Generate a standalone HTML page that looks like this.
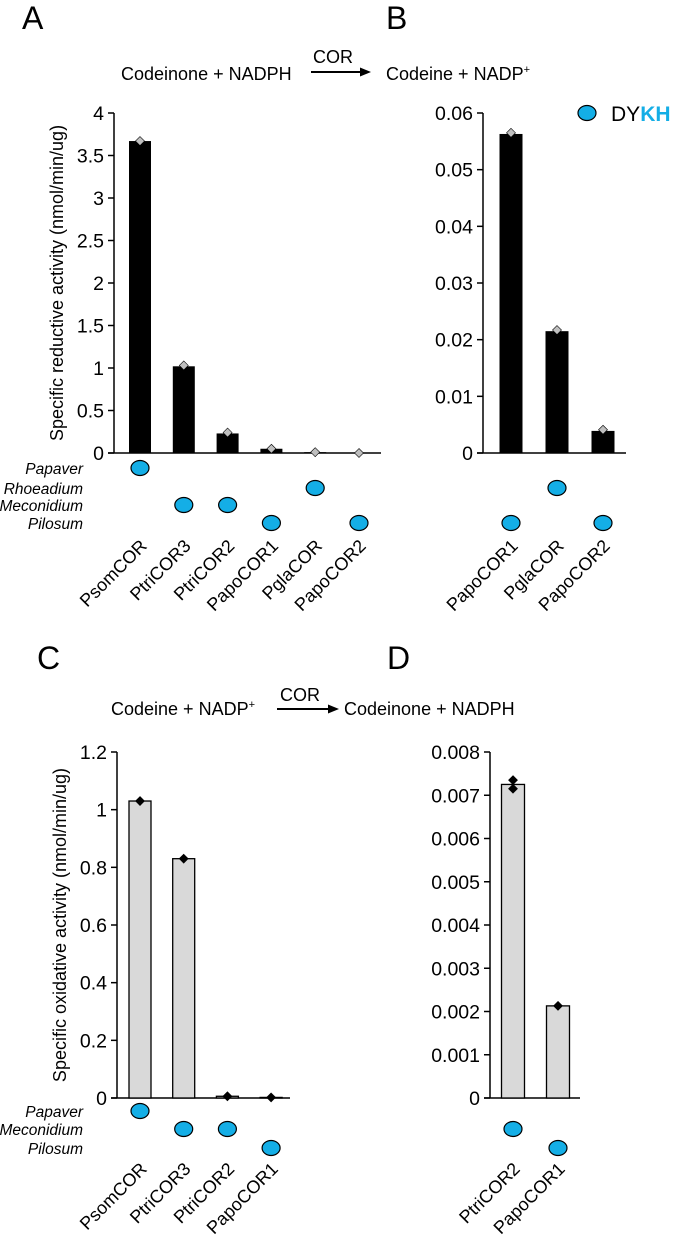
<!DOCTYPE html>
<html><head><meta charset="utf-8">
<style>
html,body{margin:0;padding:0;background:#fff;}
svg{display:block;font-family:"Liberation Sans",Arial,sans-serif;}
</style></head>
<body>
<svg id="fig" width="675" height="1241" viewBox="0 0 675 1241" xmlns="http://www.w3.org/2000/svg">
  <g font-size="32">
    <text x="22" y="29">A</text>
    <text x="386" y="29">B</text>
    <text x="37" y="669">C</text>
    <text x="387" y="669">D</text>
  </g>
  <g font-size="18">
    <text x="121" y="80">Codeinone + NADPH</text>
    <text x="313" y="63">COR</text>
    <line x1="311" y1="72" x2="362" y2="72" stroke="#000" stroke-width="2"/>
    <polygon points="371,72 360,67.5 360,76.5" fill="#000"/>
    <text x="386" y="80">Codeine + NADP<tspan font-size="11" dy="-7">+</tspan></text>
  </g>
  <g font-size="18">
    <text x="111" y="715">Codeine + NADP<tspan font-size="11" dy="-7">+</tspan></text>
    <text x="280" y="701">COR</text>
    <line x1="277" y1="709" x2="330" y2="709" stroke="#000" stroke-width="2"/>
    <polygon points="339,709 328,704.5 328,713.5" fill="#000"/>
    <text x="344" y="715">Codeinone + NADPH</text>
  </g>
  <g>
    <ellipse cx="587" cy="113" rx="9" ry="7.5" fill="#14aee6" stroke="#000" stroke-width="1.2"/>
    <text x="611" y="121" font-size="21">DY<tspan fill="#14aee6" font-weight="bold">KH</tspan></text>
  </g>
  <g id="charts"></g>
</svg>
<script>
// Panel A
const catsA = ["PsomCOR","PtriCOR3","PtriCOR2","PapoCOR1","PglaCOR","PapoCOR2"];
const valsA = [3.67, 1.02, 0.23, 0.05, 0.01, 0.003];
const ptsA = [[3.67],[1.03],[0.24],[0.05],[0.01],[0.0]];
const ticksA = ["0","0.5","1","1.5","2","2.5","3","3.5","4"];
const genusA = [0, 2, 2, 3, 1, 3];
// Panel B
const catsB = ["PapoCOR1","PglaCOR","PapoCOR2"];
const valsB = [0.0563, 0.0215, 0.0039];
const ptsB = [[0.0565],[0.0217],[0.0041]];
const ticksB = ["0","0.01","0.02","0.03","0.04","0.05","0.06"];
const genusB = [3, 1, 3];
// Panel C
const catsC = ["PsomCOR","PtriCOR3","PtriCOR2","PapoCOR1"];
const valsC = [1.03, 0.83, 0.006, 0.002];
const ptsC = [[1.03],[0.83],[0.006],[0.002]];
const ticksC = ["0","0.2","0.4","0.6","0.8","1","1.2"];
const genusC = [0, 1, 1, 2];
// Panel D
const catsD = ["PtriCOR2","PapoCOR1"];
const valsD = [0.00725, 0.00213];
const ptsD = [[0.00735, 0.00715],[0.00213]];
const ticksD = ["0","0.001","0.002","0.003","0.004","0.005","0.006","0.007","0.008"];
const genusD = [1, 2];
const genusNamesAB = ["Papaver","Rhoeadium","Meconidium","Pilosum"];
const genusNamesC = ["Papaver","Meconidium","Pilosum"];

const NS = "http://www.w3.org/2000/svg";
const root = document.getElementById("charts");
function mk(tag, attrs, parent){
  const e = document.createElementNS(NS, tag);
  for (const k in attrs) e.setAttribute(k, attrs[k]);
  (parent||root).appendChild(e);
  return e;
}
function panel(o){
  const g = mk("g", {});
  
  
  const ymax = parseFloat(o.ticks[o.ticks.length-1]);
  const y = v => o.y0 - (v/ymax)*(o.y0 - o.ytop);
  const x = i => o.x1 + o.step*i;
  const ax = mk("line", {x1:o.ax, y1:o.ytop, x2:o.ax, y2:o.y0, stroke:"#000", "stroke-width":1.5}, g);
  
  
  const bx = mk("line", {x1:o.ax-6, y1:o.y0, x2:o.axEnd, y2:o.y0, stroke:"#000", "stroke-width":1.5}, g);
  
  
  o.ticks.forEach(t => {
    const yy = y(parseFloat(t));
    mk("line", {x1:o.ax-6, y1:yy, x2:o.ax, y2:yy, stroke:"#000", "stroke-width":1.5}, g);
    const tx = mk("text", {x:o.ax-10, y:yy+7, "font-size":19.5, "text-anchor":"end"}, g);
    tx.textContent = t;
    
    
  });
  if (o.ytitle){
    const cy = (o.y0+o.ytop)/2;
    const tt = mk("text", {x:0, y:0, "font-size":18, "text-anchor":"middle", transform:`translate(${o.ax-51},${cy}) rotate(-90)`}, g);
    tt.textContent = o.ytitle;
    
    
  }
  o.vals.forEach((v,i) => {
    const top = y(v);
    const r = mk("rect", {x:x(i)-o.bw/2, y:top, width:o.bw, height:Math.max(o.y0-top,0.5), fill:o.fill, stroke:"#000", "stroke-width":o.fill==="#000"?0:1.3}, g);
    
    
    o.pts[i].forEach(p => {
      const py = y(p), s = 4.5;
      const d = mk("polygon", {points:`${x(i)},${py-s} ${x(i)+s},${py} ${x(i)},${py+s} ${x(i)-s},${py}`, fill:o.ptFill, stroke:"#000", "stroke-width":0.6}, g);
      
      
    });
    const gy = o.rows[o.genus[i]];
    const c = mk("ellipse", {cx:x(i), cy:gy, rx:9, ry:7.5, fill:"#14aee6", stroke:"#000", "stroke-width":1.2}, g);
    
    
    const lbl = mk("text", {x:0, y:0, "font-size":18, "text-anchor":"end", transform:`translate(${x(i)+8},${o.labY}) rotate(-45)`}, g);
    lbl.textContent = o.cats[i];
    
    
  });
  if (o.rowNames){
    o.rowNames.forEach((n,k) => {
      const t = mk("text", {x:83, y:o.rows[k]+6, "font-size":15.5, "font-style":"italic", "text-anchor":"end"}, g);
      t.textContent = n;
      
      
    });
  }
}
const rowsAB = [468, 488, 505, 523];
const rowsCD = [1111, 1129, 1148];
panel({name:"panel-a-chart", cats:catsA, vals:valsA, pts:ptsA, ticks:ticksA, genus:genusA, ax:114, axEnd:381, x1:140, step:43.8, bw:22, y0:453, ytop:113, fill:"#000", ptFill:"#bfbfbf", rows:rowsAB, rowNames:genusNamesAB, labY:547, ytitle:"Specific reductive activity (nmol/min/ug)"});
panel({name:"panel-b-chart", cats:catsB, vals:valsB, pts:ptsB, ticks:ticksB, genus:genusB, ax:483, axEnd:626, x1:511, step:46, bw:23, y0:453, ytop:113, fill:"#000", ptFill:"#bfbfbf", rows:rowsAB, labY:547});
panel({name:"panel-c-chart", cats:catsC, vals:valsC, pts:ptsC, ticks:ticksC, genus:genusC, ax:117, axEnd:290, x1:140, step:43.7, bw:22, y0:1098, ytop:752, fill:"#d9d9d9", ptFill:"#000", rows:rowsCD, rowNames:genusNamesC, labY:1170, ytitle:"Specific oxidative activity (nmol/min/ug)"});
panel({name:"panel-d-chart", cats:catsD, vals:valsD, pts:ptsD, ticks:ticksD, genus:genusD, ax:490, axEnd:580, x1:513, step:45, bw:23, y0:1098, ytop:752, fill:"#d9d9d9", ptFill:"#000", rows:rowsCD, labY:1170});
</script>
</body></html>
